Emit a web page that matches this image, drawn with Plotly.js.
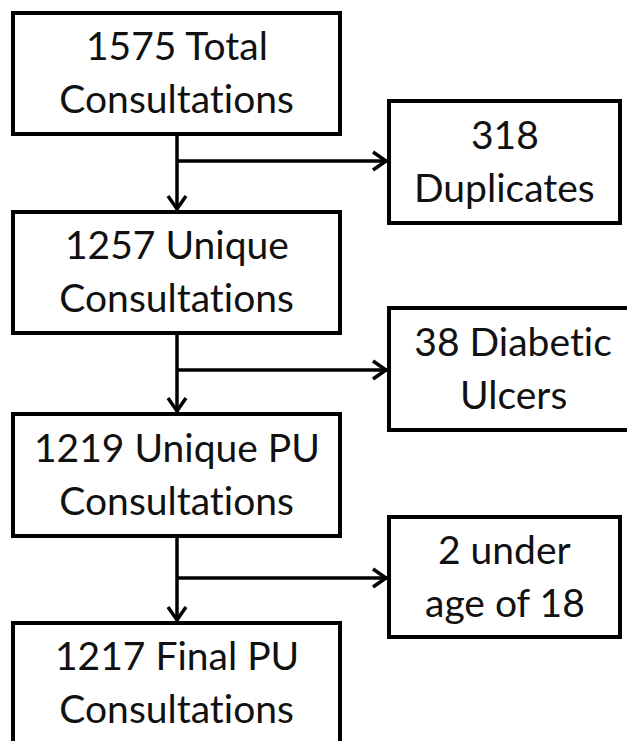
<!DOCTYPE html>
<html>
<head>
<meta charset="utf-8">
<script src="https://cdn.plot.ly/plotly-3.0.1.min.js"></script>
<style>
html,body{margin:0;padding:0;background:#fff;}
#chart{width:627px;height:741px;}
#chart text{font-variant-ligatures:none;font-feature-settings:"liga" 0,"clig" 0;}
</style>
</head>
<body>
<div id="chart"></div>
<script>
// ---- data ----
const mainCounts = [1575, 1257, 1219, 1217];
const mainLabels = ["{n} Total<br>Consultations", "{n} Unique<br>Consultations", "{n} Unique PU<br>Consultations", "{n} Final PU<br>Consultations"];
const excludedCounts = [318, 38, 2];
const excludedLabels = ["{n}<br>Duplicates", "{n} Diabetic<br>Ulcers", "{n} under<br>age of 18"];

// ---- layout geometry (pixels) ----
const W = 627, H = 741;
const mainX = [13, 340];
const mainY = [[13, 134], [212, 333], [414, 536], [623, 750]];
const exclX = [[389, 620], [389, 637], [389, 620]];
const exclY = [[101, 223], [308, 430], [517, 637]];
const branchY = [161, 370, 578];
const spineX = 177;
const HALF_GAP = 26.5;
const TEXT_SHIFT = -2;
const FONT = {family: "Lato, 'Open Sans', sans-serif", size: 39, color: "#111"};
const BOX_W = 4, LINE_W = 3.5;

const shapes = [];
const annotations = [];

function box(x0, x1, y0, y1) {
  shapes.push({type: "rect", xref: "x", yref: "y", x0: x0, x1: x1, y0: y0, y1: y1,
    line: {color: "#000", width: BOX_W}, fillcolor: "#fff", layer: "above"});
}
function line(x0, y0, x1, y1) {
  shapes.push({type: "line", xref: "x", yref: "y", x0: x0, y0: y0, x1: x1, y1: y1,
    line: {color: "#000", width: LINE_W}, layer: "below"});
}
function path(d) {
  shapes.push({type: "path", xref: "x", yref: "y", path: d,
    line: {color: "#000", width: LINE_W}, layer: "below"});
}
function label(text, x, yc) {
  const lines = text.split("<br>");
  lines.forEach(function (t, k) {
    annotations.push({text: t, x: x, y: yc + TEXT_SHIFT + (k - (lines.length - 1) / 2) * 2 * HALF_GAP,
      xref: "x", yref: "y", showarrow: false,
      xanchor: "center", yanchor: "middle", align: "center", font: FONT});
  });
}

mainCounts.forEach(function (n, i) {
  const [y0, y1] = mainY[i];
  box(mainX[0], mainX[1], y0, y1);
  const yc = (i === mainCounts.length - 1) ? y0 + 60.5 : (y0 + y1) / 2;
  label(mainLabels[i].replace("{n}", n), (mainX[0] + mainX[1]) / 2, yc);
  if (i < mainCounts.length - 1) {
    const top = mainY[i + 1][0];
    line(spineX, y1, spineX, top - 2);
    path("M" + (spineX - 9) + "," + (top - 16) + " L" + spineX + "," + (top - 3) + " L" + (spineX + 9) + "," + (top - 16));
  }
});

excludedCounts.forEach(function (n, i) {
  const [x0, x1] = exclX[i];
  const [y0, y1] = exclY[i];
  box(x0, x1, y0, y1);
  label(excludedLabels[i].replace("{n}", n), (x0 + x1) / 2, (y0 + y1) / 2);
  const by = branchY[i];
  line(spineX, by, x0 - 2, by);
  path("M" + (x0 - 16) + "," + (by - 9) + " L" + (x0 - 3) + "," + by + " L" + (x0 - 16) + "," + (by + 9));
});

const layout = {
  width: W, height: H,
  margin: {l: 0, r: 0, t: 0, b: 0},
  paper_bgcolor: "#fff", plot_bgcolor: "#fff",
  xaxis: {range: [0, W], visible: false, fixedrange: true},
  yaxis: {range: [H, 0], visible: false, fixedrange: true},
  showlegend: false,
  shapes: shapes,
  annotations: annotations
};

Plotly.newPlot("chart", [{x: [], y: [], type: "scatter", mode: "markers", hoverinfo: "skip"}], layout, {displayModeBar: false, staticPlot: true});
</script>
</body>
</html>
